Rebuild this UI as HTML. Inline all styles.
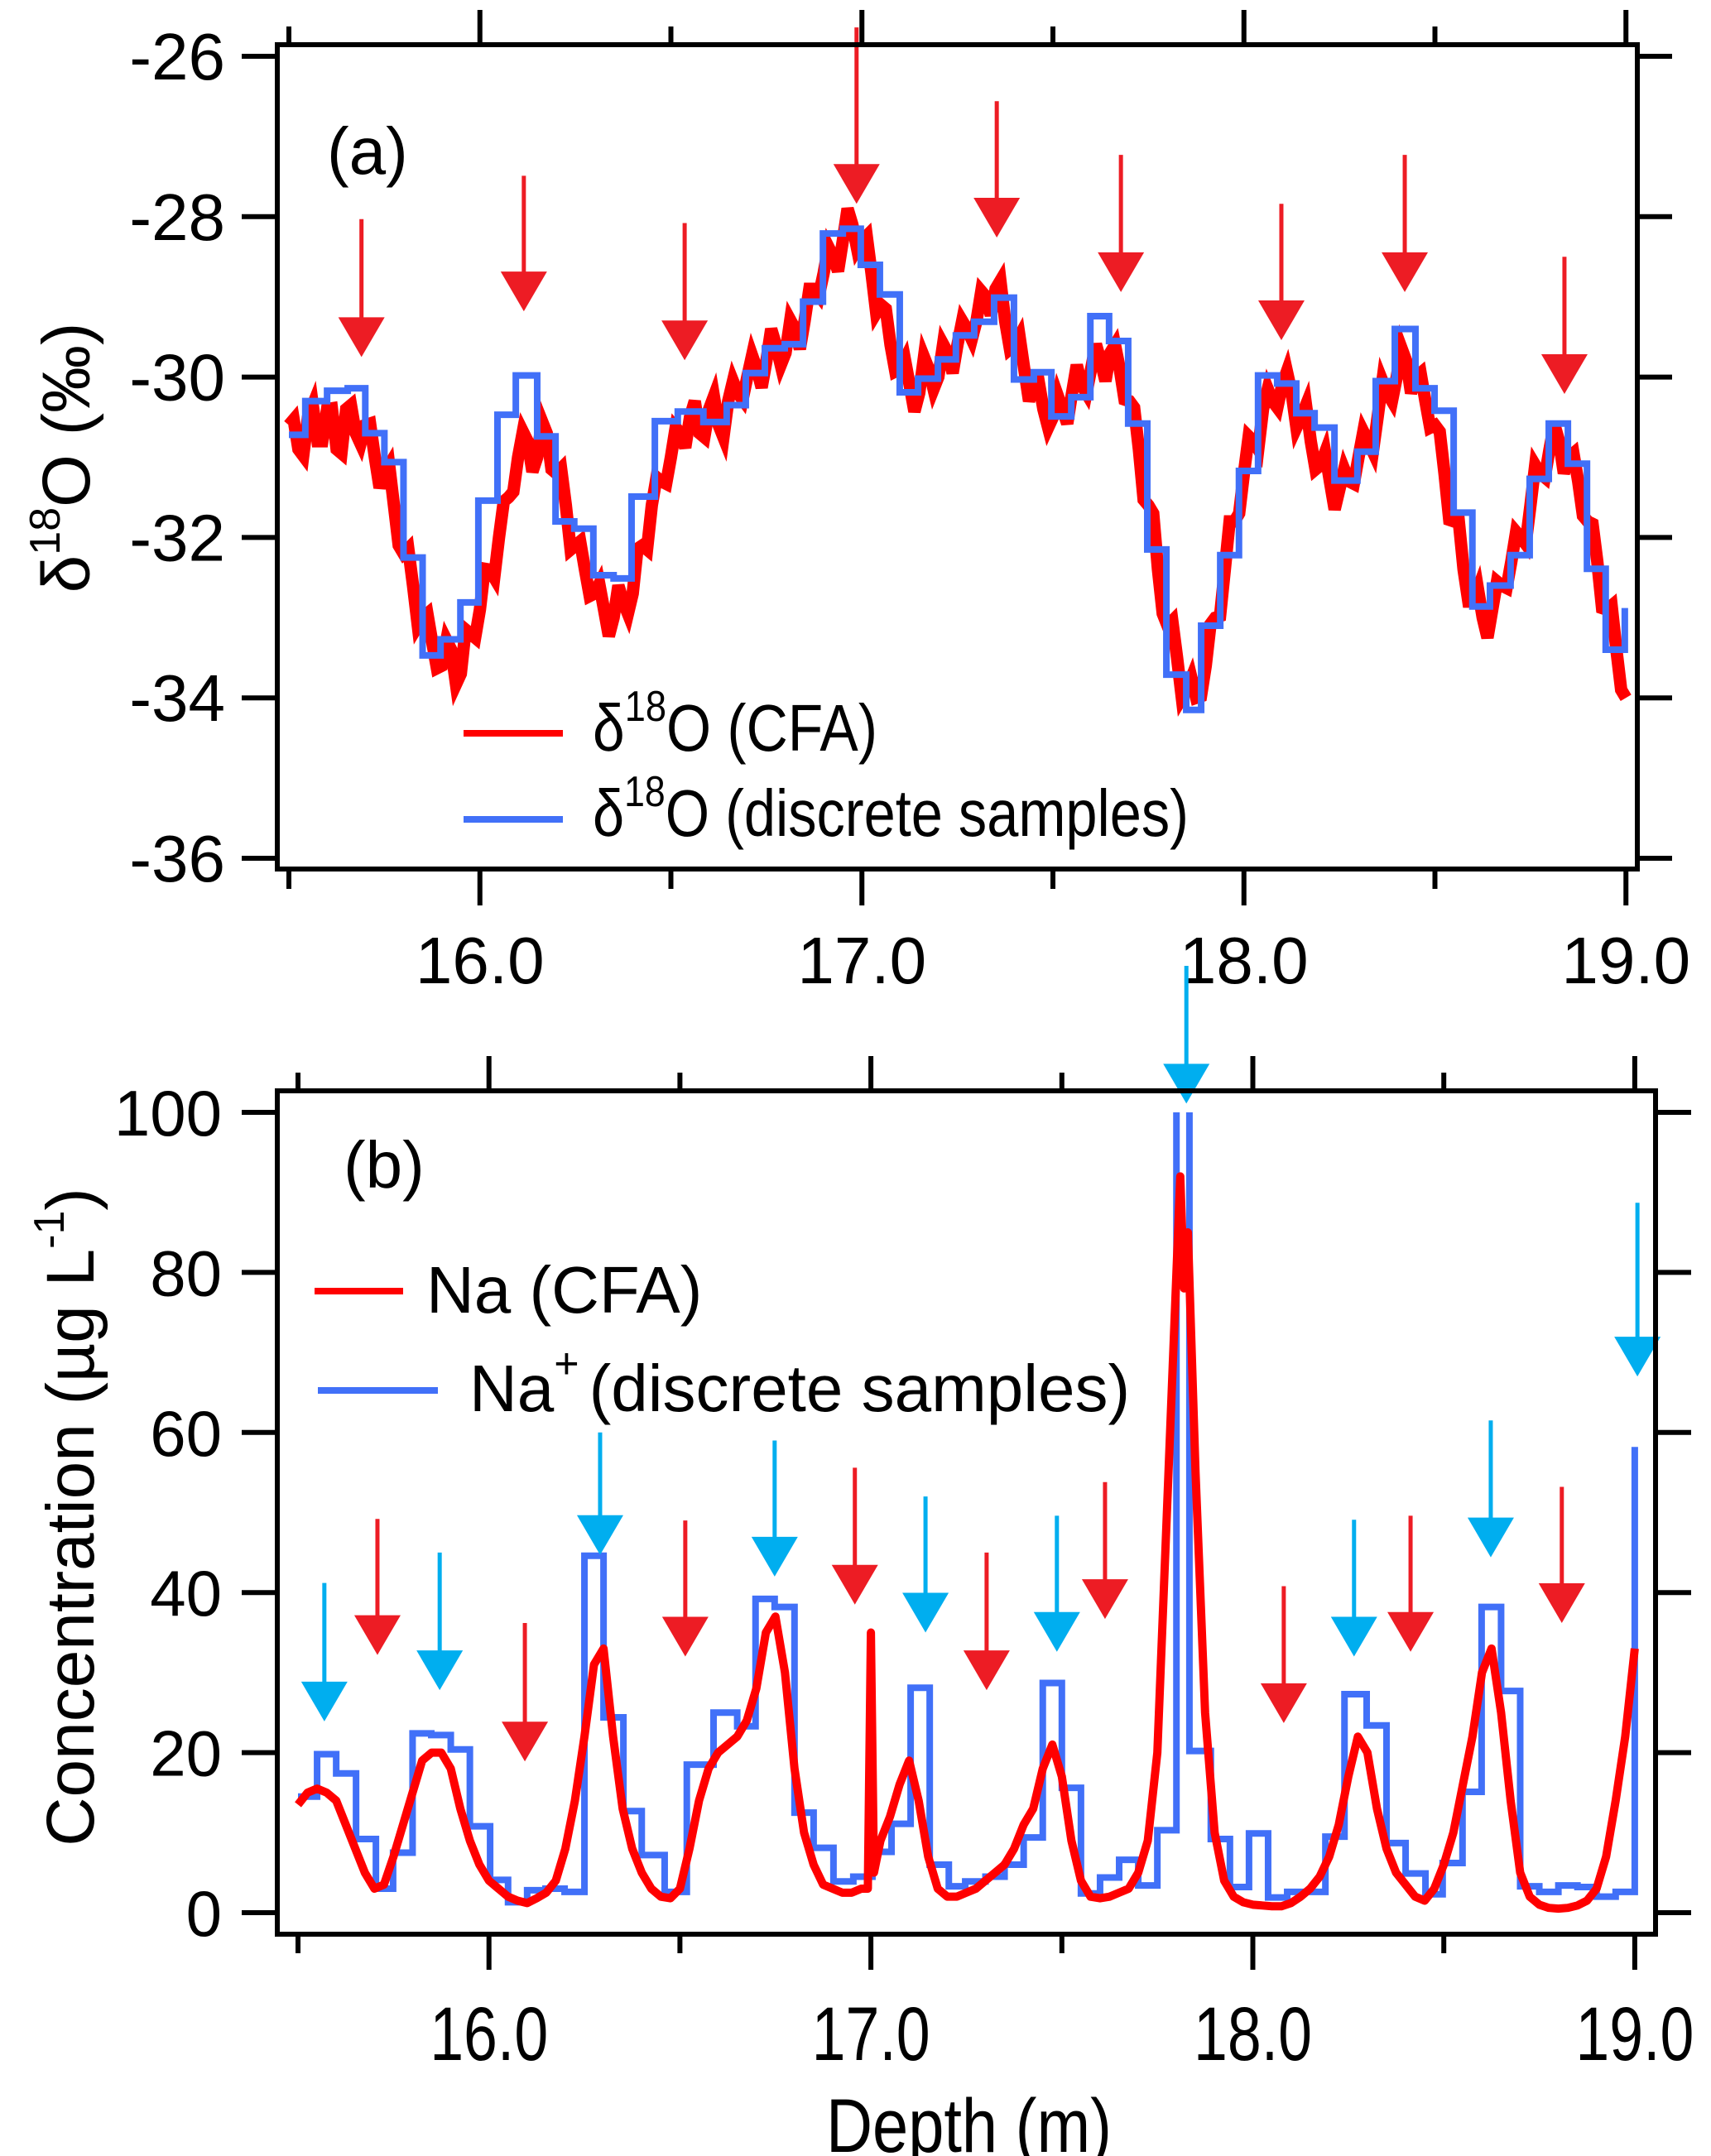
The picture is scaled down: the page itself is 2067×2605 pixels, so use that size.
<!DOCTYPE html>
<html><head><meta charset="utf-8"><style>
html,body{margin:0;padding:0;background:#fff;}
svg{display:block;}
text{font-family:"Liberation Sans",Arial,sans-serif;fill:#000;}
</style></head>
<body>
<svg id="chart" width="2067" height="2605" viewBox="0 0 2067 2605" xmlns="http://www.w3.org/2000/svg">
<defs>
<clipPath id="clipA"><rect x="338" y="57" width="1637" height="990"/></clipPath>
<clipPath id="clipB"><rect x="338" y="1344" width="1659" height="990"/></clipPath>
</defs>
<g id="panelA"></g>
<g id="panelB"></g>
</svg>
<script>
// ---------- Panel (a) data ----------
const d18oStepDepth = [15.50,15.543,15.60,15.654,15.70,15.75,15.80,15.85,15.897,15.949,15.996,16.046,16.094,16.15,16.198,16.247,16.297,16.35,16.397,16.458,16.518,16.585,16.646,16.696,16.746,16.798,16.846,16.898,16.95,16.997,17.047,17.099,17.147,17.199,17.246,17.294,17.346,17.398,17.45,17.496,17.548,17.598,17.647,17.697,17.747,17.797,17.849,17.888,17.938,17.987,18.037,18.087,18.137,18.185,18.237,18.297,18.345,18.395,18.449,18.499,18.549,18.598,18.644,18.698,18.748,18.798,18.848,18.898,18.947,18.997];
const d18oStepValue = [-30.72,-30.30,-30.17,-30.14,-30.70,-31.06,-32.25,-33.47,-33.27,-32.81,-31.54,-30.47,-29.98,-30.74,-31.80,-31.89,-32.47,-32.51,-31.49,-30.55,-30.43,-30.56,-30.35,-29.95,-29.64,-29.59,-29.06,-28.21,-28.15,-28.60,-28.97,-30.19,-30.02,-29.78,-29.48,-29.31,-29.01,-30.03,-29.94,-30.49,-30.25,-29.24,-29.55,-30.58,-32.15,-33.71,-34.15,-33.10,-32.22,-31.17,-29.98,-30.08,-30.45,-30.63,-31.29,-30.93,-30.05,-29.40,-30.14,-30.42,-31.69,-32.86,-32.60,-32.22,-31.27,-30.58,-31.08,-32.39,-33.40,-32.88];
const d18oCfaStart = 15.5, d18oCfaStep = 0.025;
const d18oCfaValue = [-30.6,-30.9,-30.5,-30.8,-30.4,-30.9,-30.4,-30.7,-30.6,-31.0,-31.2,-31.6,-32.2,-32.6,-33.0,-33.3,-33.6,-33.4,-33.7,-33.2,-32.9,-32.4,-32.0,-31.5,-31.0,-30.8,-31.0,-30.7,-31.2,-31.6,-32.1,-32.4,-32.7,-32.9,-33.0,-32.8,-32.7,-32.1,-31.6,-31.3,-31.0,-30.7,-30.5,-30.7,-30.4,-30.6,-30.3,-30.2,-30.0,-29.9,-29.8,-29.6,-29.7,-29.4,-29.3,-28.9,-28.7,-28.5,-28.3,-28.1,-28.3,-28.7,-29.1,-29.6,-29.9,-30.1,-30.2,-29.9,-30.0,-29.7,-29.6,-29.4,-29.3,-29.0,-28.9,-29.3,-29.6,-29.9,-30.1,-30.4,-30.5,-30.4,-30.2,-30.1,-29.9,-29.8,-29.7,-29.9,-30.3,-30.9,-31.6,-32.4,-33.1,-33.5,-33.9,-34.0,-33.6,-33.0,-32.4,-31.8,-31.2,-30.8,-30.4,-30.3,-30.1,-30.2,-30.5,-30.8,-31.1,-31.3,-31.4,-31.3,-31.0,-30.8,-30.5,-30.2,-30.0,-29.8,-30.0,-30.3,-30.6,-31.2,-31.8,-32.4,-32.8,-33.0,-32.9,-32.6,-32.3,-32.0,-31.6,-31.2,-30.9,-30.8,-31.0,-31.3,-31.8,-32.3,-32.9,-33.4,-34.0];
const d18oCfaJitter = [0.22,-0.28,0.3,-0.2,0.26,-0.3,0.2,-0.18];
const arrowADepth = [15.69,16.115,16.536,16.986,17.353,17.678,18.098,18.421,18.839];
const arrowATop = [-28.03,-27.49,-28.08,-25.64,-26.56,-27.23,-27.84,-27.23,-28.50];
const arrowATip = [-29.75,-29.18,-29.79,-27.84,-28.26,-28.94,-29.54,-28.94,-30.21];
const yTicksA = [-26,-28,-30,-32,-34,-36];
const xTicks = [16,17,18,19];
const xTickLabels = ["16.0","17.0","18.0","19.0"];
const xMinor = [15.5,16.5,17.5,18.5];

// ---------- Panel (b) data ----------
const naStepDepth = [15.50,15.55,15.60,15.652,15.704,15.749,15.80,15.849,15.90,15.95,16.003,16.05,16.10,16.148,16.198,16.25,16.30,16.352,16.40,16.46,16.518,16.588,16.65,16.698,16.748,16.80,16.85,16.902,16.954,17.004,17.054,17.104,17.154,17.204,17.247,17.30,17.35,17.40,17.45,17.50,17.55,17.60,17.65,17.70,17.75,17.80,17.834,17.89,17.94,17.99,18.04,18.09,18.19,18.24,18.298,18.35,18.40,18.452,18.497,18.549,18.599,18.65,18.70,18.75,18.80,18.85,18.90,18.95,19.0];
const naStepValue = [14.5,19.8,17.4,9.2,3.0,7.5,22.4,22.2,20.4,10.8,4.1,1.3,2.8,3.0,2.6,44.6,24.4,12.7,7.2,2.6,18.5,25.0,23.3,39.2,38.2,12.5,8.1,3.9,4.5,7.6,11.1,28.1,6.0,3.3,3.9,4.5,6.0,9.4,28.7,15.6,2.4,4.4,6.6,3.4,10.3,130,20.2,9.2,3.2,9.9,1.9,2.6,9.5,27.3,23.4,8.7,4.9,2.3,6.2,15.1,38.2,27.7,3.3,2.6,3.4,3.2,2.0,2.6,58.2];
const naCfaDepth = [15.5,15.525,15.55,15.575,15.6,15.625,15.65,15.675,15.7,15.725,15.75,15.775,15.8,15.825,15.85,15.875,15.9,15.925,15.95,15.975,16.0,16.025,16.05,16.075,16.1,16.125,16.15,16.175,16.2,16.225,16.25,16.275,16.3,16.325,16.35,16.375,16.4,16.425,16.45,16.475,16.5,16.525,16.55,16.575,16.6,16.625,16.65,16.675,16.7,16.725,16.75,16.775,16.8,16.825,16.85,16.875,16.9,16.925,16.95,16.975,16.992,17.0,17.008,17.025,17.05,17.075,17.1,17.125,17.15,17.175,17.2,17.225,17.25,17.275,17.3,17.325,17.35,17.375,17.4,17.425,17.45,17.475,17.5,17.525,17.55,17.575,17.6,17.625,17.65,17.675,17.7,17.725,17.75,17.775,17.8,17.81,17.82,17.83,17.85,17.875,17.9,17.925,17.95,17.975,18.0,18.025,18.05,18.075,18.1,18.125,18.15,18.175,18.2,18.225,18.25,18.275,18.3,18.325,18.35,18.375,18.4,18.425,18.45,18.475,18.5,18.525,18.55,18.575,18.6,18.625,18.65,18.675,18.7,18.725,18.75,18.775,18.8,18.825,18.85,18.875,18.9,18.925,18.95,18.975,19.0];
const naCfaValue = [13.5,15,15.5,15,14,11,8,5,3,3.5,7,11,15,19,20,20,18,13,9,6,4,3,2,1.5,1.2,1.8,2.5,4,8,14,22,31,33,22,13,8,5,3,2,1.8,3,8,14,18,20,21,22,24,28,35,37,30,18,10,6,3.5,3,2.5,2.5,3,3,35,5,9,12,16,19,14,7,3,2,2,2.5,3,4,5,6,8,11,13,18,21,17,9,4,2,1.8,2,2.5,3,5,9,20,50,80,92,78,85,55,25,10,4,2,1.3,1,0.9,0.8,0.8,1.2,2,3,4.5,7,11,17,22,20,13,8,5,3.5,2,1.5,3,6,10,16,22,30,33,25,14,5,2,1,0.6,0.5,0.6,0.9,1.5,3,7,14,22,33];
const cyanDepth = [15.569,15.871,16.291,16.748,17.143,17.487,17.826,18.265,18.623,19.007];
const cyanTop = [41.2,45.0,60.0,59.0,52.0,49.6,118.3,49.1,61.5,88.7];
const cyanTip = [23.9,27.8,44.7,42.0,35.0,32.6,101.1,32.0,44.4,67.0];
const redBDepth = [15.708,16.094,16.514,16.958,17.303,17.613,18.081,18.413,18.809];
const redBTop = [49.2,36.2,49.0,55.6,45.0,53.8,40.8,49.6,53.2];
const redBTip = [32.2,18.9,32.0,38.5,27.8,36.7,23.7,32.6,36.2];
const yTicksB = [100,80,60,40,20,0];

// ---------- helpers ----------
const NS = "http://www.w3.org/2000/svg";
function mk(parent, tag, attrs, txt){
  const e = document.createElementNS(NS, tag);
  for (const k in attrs) e.setAttribute(k, attrs[k]);
  if (txt !== undefined) e.textContent = txt;
  parent.appendChild(e);
  return e;
}
const xA = d => 349 + (d - 15.5) * 461.5;
const yA = v => 68 + (-26 - v) * 96.9;
const xB = d => 360 + (d - 15.5) * 461.4;
const yB = v => 2311 - v * 9.67;

function stepPath(depths, vals, xf, yf){
  let p = "M" + xf(depths[0]) + "," + yf(vals[0]);
  for (let i = 1; i < depths.length; i++){
    p += " L" + xf(depths[i]) + "," + yf(vals[i-1]) + " L" + xf(depths[i]) + "," + yf(vals[i]);
  }
  return p;
}
function arrow(g, x, yTop, yTip, color, sw){
  const a = mk(g, "g", {});
  
  
  mk(a, "line", {x1:x, y1:yTop, x2:x, y2:yTip-40, stroke:color, "stroke-width":sw});
  mk(a, "polygon", {points:(x-28)+","+(yTip-48)+" "+(x+28)+","+(yTip-48)+" "+x+","+yTip, fill:color});
}

// ---------- Panel (a) ----------
const gA = document.getElementById("panelA");
{
  let pts = [];
  for (let i = 0; i < d18oCfaValue.length; i++){
    const d = d18oCfaStart + i * d18oCfaStep;
    pts.push(xA(d) + "," + yA(d18oCfaValue[i]));
    if (i < d18oCfaValue.length - 1){
      const dm = d + d18oCfaStep/2;
      const vm = (d18oCfaValue[i] + d18oCfaValue[i+1]) / 2 + d18oCfaJitter[i % d18oCfaJitter.length];
      pts.push(xA(dm) + "," + yA(vm));
    }
  }
  const l = mk(gA, "polyline", {points:pts.join(" "), fill:"none", stroke:"#ff0000", "stroke-width":15, "stroke-linejoin":"miter", "clip-path":"url(#clipA)"});
  
  
}
{
  const s = mk(gA, "path", {d:stepPath(d18oStepDepth, d18oStepValue, xA, yA), fill:"none", stroke:"#4170f8", "stroke-width":8, "clip-path":"url(#clipA)"});
  
  
}
for (let i = 0; i < arrowADepth.length; i++) arrow(gA, xA(arrowADepth[i]), yA(arrowATop[i]), yA(arrowATip[i]), "#ed1c24", 5);
{
  const f = mk(gA, "rect", {x:335, y:54, width:1643, height:996, fill:"none", stroke:"#000", "stroke-width":6});
  
  
}
for (let i = 0; i < yTicksA.length; i++){
  const y = yA(yTicksA[i]);
  mk(gA, "line", {x1:292, y1:y, x2:335, y2:y, stroke:"#000", "stroke-width":6});
  mk(gA, "line", {x1:1978, y1:y, x2:2020, y2:y, stroke:"#000", "stroke-width":6});
  const t = mk(gA, "text", {x:272, y:y+28, "font-size":80, "text-anchor":"end"}, String(yTicksA[i]));
  
  
}
for (let i = 0; i < xTicks.length; i++){
  const x = xA(xTicks[i]);
  mk(gA, "line", {x1:x, y1:12, x2:x, y2:54, stroke:"#000", "stroke-width":6});
  mk(gA, "line", {x1:x, y1:1050, x2:x, y2:1094, stroke:"#000", "stroke-width":6});
  const t = mk(gA, "text", {x:x, y:1188, "font-size":80, "text-anchor":"middle"}, xTickLabels[i]);
  
  
}
for (let i = 0; i < xMinor.length; i++){
  const x = xA(xMinor[i]);
  mk(gA, "line", {x1:x, y1:32, x2:x, y2:54, stroke:"#000", "stroke-width":6});
  mk(gA, "line", {x1:x, y1:1050, x2:x, y2:1074, stroke:"#000", "stroke-width":6});
}
</script>
<script>
// ---------- Panel (b) ----------
const gB = document.getElementById("panelB");
{
  const s = mk(gB, "path", {d:stepPath(naStepDepth, naStepValue, xB, yB), fill:"none", stroke:"#4170f8", "stroke-width":8, "clip-path":"url(#clipB)"});
  
  
}
{
  const pts = naCfaDepth.map((d,i) => xB(d) + "," + yB(naCfaValue[i])).join(" ");
  const l = mk(gB, "polyline", {points:pts, fill:"none", stroke:"#ff0000", "stroke-width":10, "stroke-linejoin":"round", "clip-path":"url(#clipB)"});
  
  
}
for (let i = 0; i < cyanDepth.length; i++) arrow(gB, xB(cyanDepth[i]), yB(cyanTop[i]), yB(cyanTip[i]), "#00aeef", 5);
for (let i = 0; i < redBDepth.length; i++) arrow(gB, xB(redBDepth[i]), yB(redBTop[i]), yB(redBTip[i]), "#ed1c24", 5);
{
  const f = mk(gB, "rect", {x:335, y:1318, width:1665, height:1019, fill:"none", stroke:"#000", "stroke-width":6});
  
  
}
for (let i = 0; i < yTicksB.length; i++){
  const y = yB(yTicksB[i]);
  mk(gB, "line", {x1:292, y1:y, x2:335, y2:y, stroke:"#000", "stroke-width":6});
  mk(gB, "line", {x1:2000, y1:y, x2:2043, y2:y, stroke:"#000", "stroke-width":6});
  const t = mk(gB, "text", {x:268, y:y+28, "font-size":78, "text-anchor":"end"}, String(yTicksB[i]));
  
  
}
for (let i = 0; i < xTicks.length; i++){
  const x = xB(xTicks[i]);
  mk(gB, "line", {x1:x, y1:1276, x2:x, y2:1318, stroke:"#000", "stroke-width":6});
  mk(gB, "line", {x1:x, y1:2337, x2:x, y2:2380, stroke:"#000", "stroke-width":6});
  const t = mk(gB, "text", {x:x, y:2489, "font-size":92, "text-anchor":"middle", textLength:143, lengthAdjust:"spacingAndGlyphs"}, xTickLabels[i]);
  
  
}
for (let i = 0; i < xMinor.length; i++){
  const x = xB(xMinor[i]);
  mk(gB, "line", {x1:x, y1:1296, x2:x, y2:1318, stroke:"#000", "stroke-width":6});
  mk(gB, "line", {x1:x, y1:2337, x2:x, y2:2360, stroke:"#000", "stroke-width":6});
}
</script>
<svg style="position:absolute;left:0;top:0" width="2067" height="2605" viewBox="0 0 2067 2605" xmlns="http://www.w3.org/2000/svg">
  <text x="395" y="210" font-size="80">(a)</text>
  <text x="415" y="1435" font-size="80">(b)</text>
  <text transform="translate(108,553) rotate(-90)" text-anchor="middle" font-size="82">δ<tspan font-size="52" dy="-36">18</tspan><tspan dy="36">O (‰)</tspan></text>
  <text transform="translate(113,1833) rotate(-90)" text-anchor="middle" font-size="82">Concentration (µg L<tspan font-size="52" dy="-36">-1</tspan><tspan dy="36">)</tspan></text>
  <text x="998" y="2600" font-size="92" textLength="345" lengthAdjust="spacingAndGlyphs">Depth (m)</text>
  <g>
    <line x1="560" y1="886" x2="680" y2="886" stroke="#ff0000" stroke-width="8"/>
    <text x="716" y="907" font-size="80" textLength="344" lengthAdjust="spacingAndGlyphs">δ<tspan font-size="52" dy="-36">18</tspan><tspan dy="36">O (CFA)</tspan></text>
    <line x1="560" y1="990" x2="680" y2="990" stroke="#4170f8" stroke-width="8"/>
    <text x="716" y="1010" font-size="80" textLength="720" lengthAdjust="spacingAndGlyphs">δ<tspan font-size="52" dy="-36">18</tspan><tspan dy="36">O (discrete samples)</tspan></text>
  </g>
  <g>
    <line x1="380" y1="1560" x2="487" y2="1560" stroke="#ff0000" stroke-width="8"/>
    <text x="515" y="1586" font-size="80">Na (CFA)</text>
    <line x1="384" y1="1680" x2="529" y2="1680" stroke="#4170f8" stroke-width="8"/>
    <text x="567" y="1705" font-size="80">Na<tspan font-size="52" dy="-40">+</tspan><tspan dy="40" dx="12">(discrete samples)</tspan></text>
  </g>
</svg>
</body></html>
